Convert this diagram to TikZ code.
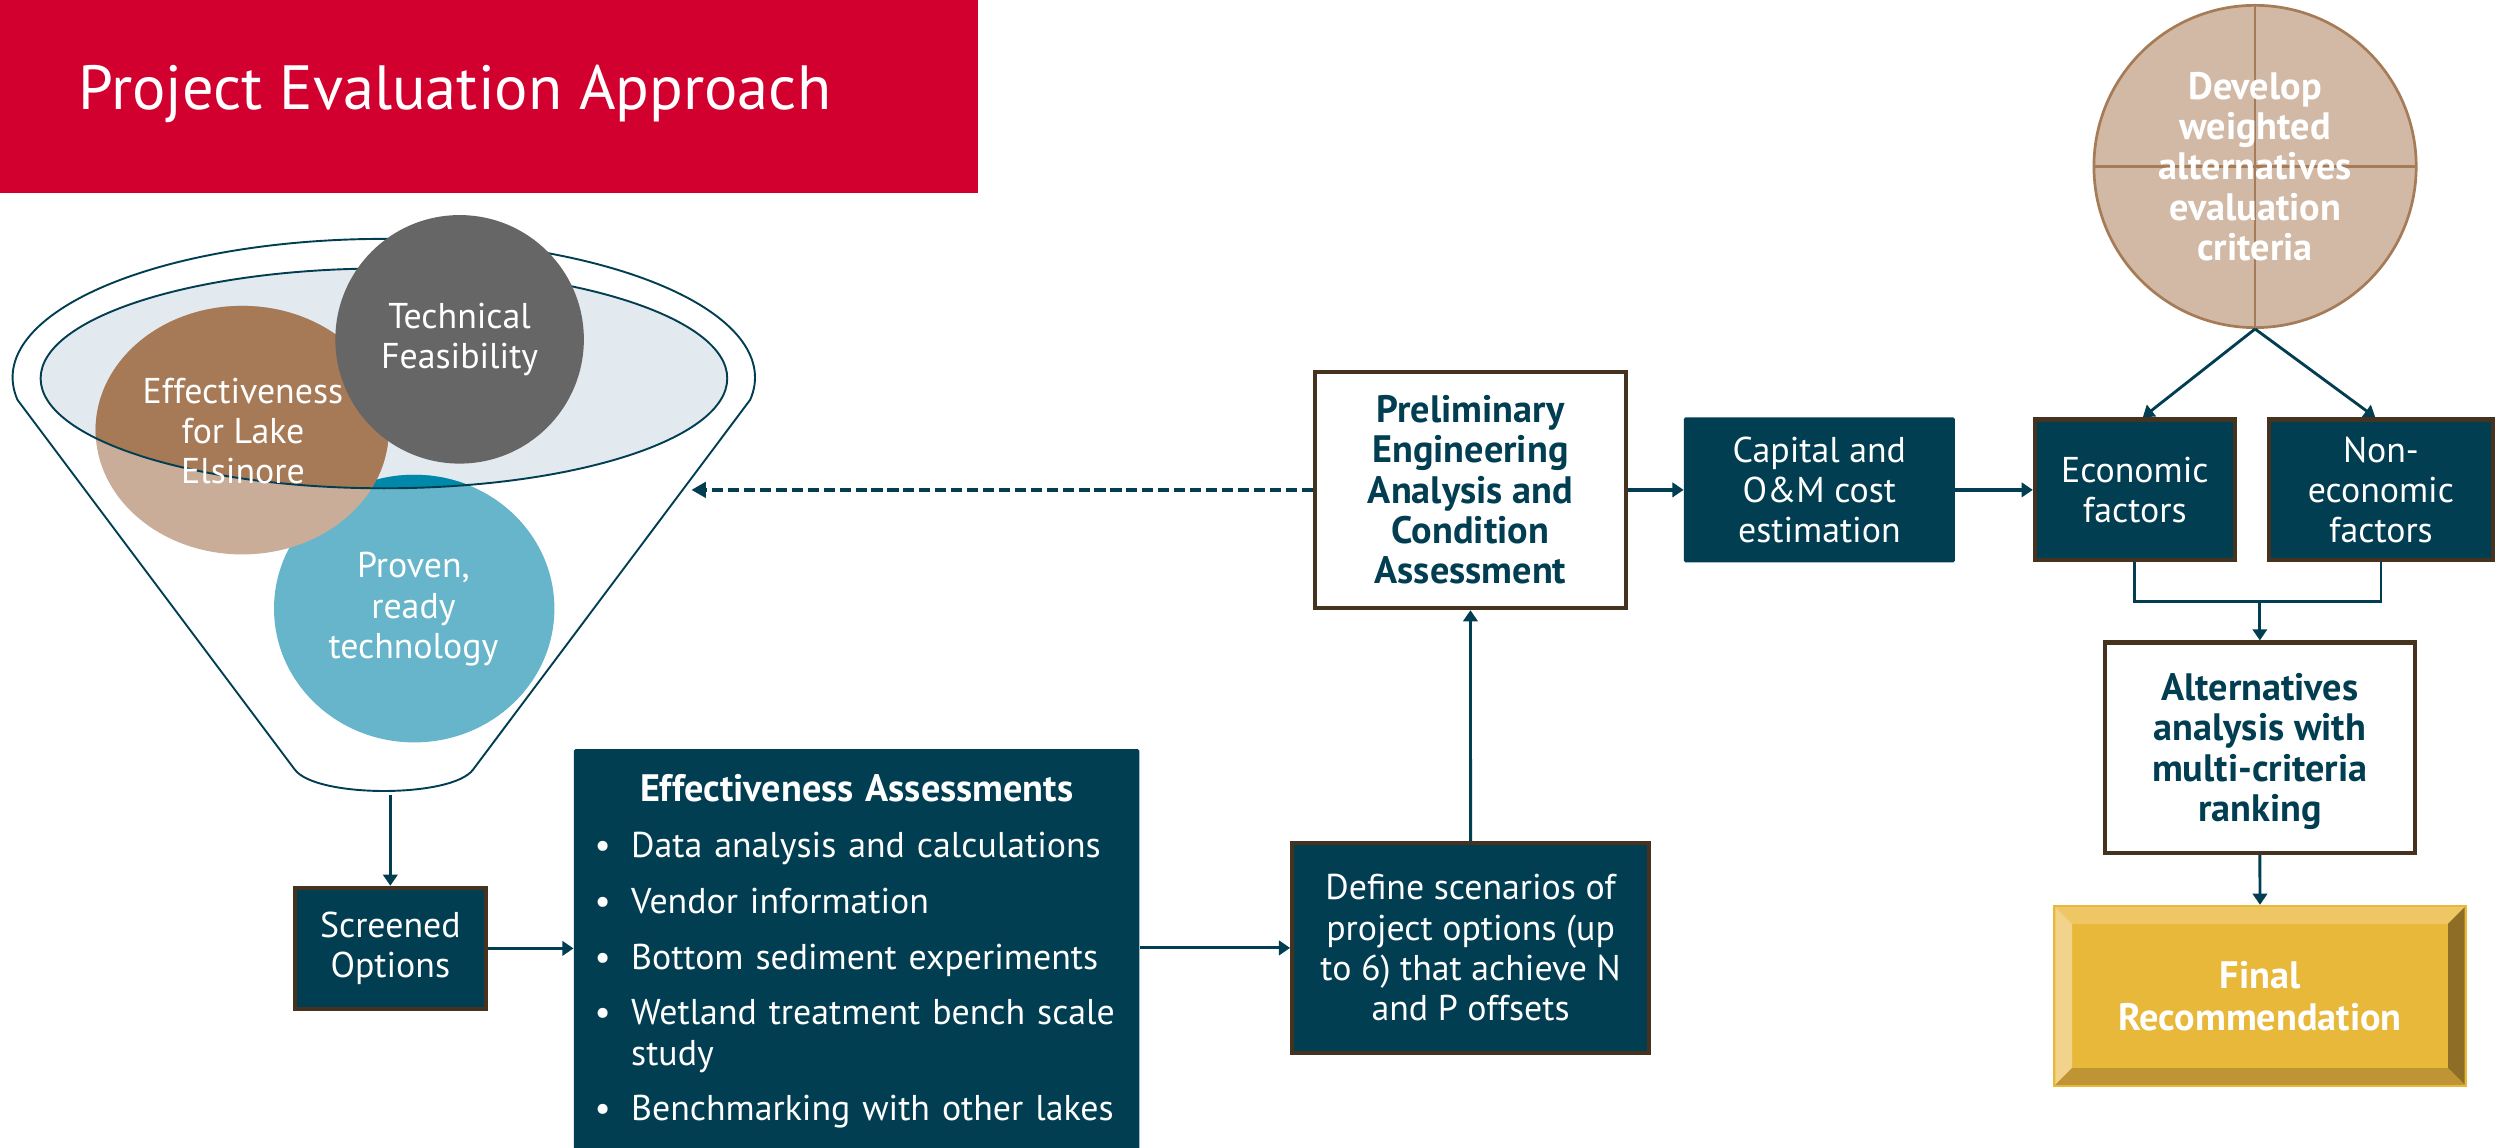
\documentclass[tikz,border=0pt]{standalone}
\usepackage{fontspec}
\setmainfont{PT Sans}
\usetikzlibrary{arrows.meta,calc}

\definecolor{tealdark}{HTML}{023E52}
\definecolor{boxedge}{HTML}{46331F}
\definecolor{titlered}{HTML}{D2002F}
\definecolor{funnelfill}{HTML}{E2E9EF}
\definecolor{graycirc}{HTML}{666666}
\definecolor{brownlight}{HTML}{C9AD98}
\definecolor{browndark}{HTML}{A67A57}
\definecolor{teallight}{HTML}{66B5CB}
\definecolor{tealmid}{HTML}{0088AA}
\definecolor{critfill}{HTML}{D2B9A6}
\definecolor{critedge}{HTML}{A67B57}
\definecolor{gold}{HTML}{E8B83A}
\definecolor{goldtop}{HTML}{EEC764}
\definecolor{goldleft}{HTML}{F2D38B}
\definecolor{goldright}{HTML}{8E6E26}
\definecolor{goldbottom}{HTML}{BF9434}

\newcommand{\bodyfont}{\fontsize{22.5}{25.3}\selectfont}
\newcommand{\boldfont}{\fontsize{24}{25.3}\selectfont\bfseries}
\newcommand{\titlefont}{\fontsize{39.2}{44}\selectfont}

\begin{document}
\begin{tikzpicture}[x=1pt,y=-1pt,
  every node/.style={inner sep=0pt, align=center, font=\bodyfont},
  darkbox/.style={fill=tealdark, draw=boxedge, line width=2.6pt, text=white},
  plainbox/.style={fill=tealdark, text=white, rounded corners=1pt},
  whitebox/.style={fill=white, draw=boxedge, line width=2.6pt, text=tealdark, font=\boldfont},
  link/.style={draw=tealdark, line width=1.8pt, -{Triangle[length=7pt,width=9pt]}},
  backlink/.style={draw=tealdark, line width=2.5pt, dash pattern=on 7pt off 3pt,
    -{Triangle[length=9pt,width=9.5pt]}},
  joint/.style={draw=tealdark, line width=1.8pt},
  outline/.style={draw=tealdark, line width=1.2pt},
  bubbletext/.style={text=white},
]
\useasboundingbox (0,0) rectangle (1568,720);

% ---- title banner
\fill[titlered] (0,0) rectangle (614,121);
\node[anchor=base west, text=white, font=\titlefont] (title) at (49,69) {Project Evaluation Approach};

% ---- screening funnel
\draw[outline, fill=white] (11,251)
  arc[start angle=189.3, end angle=-9.3, x radius=233pt, y radius=87pt]
  -- (297,483) .. controls (284,501) and (198,501) .. (185,483) -- cycle;
\fill[funnelfill] (241,237.5) ellipse[x radius=215.5pt, y radius=69pt];
\fill[teallight] (260,382) ellipse[x radius=88pt, y radius=84pt];
\fill[brownlight] (152,270) ellipse[x radius=92pt, y radius=78pt];
\begin{scope}
  \clip (241,237.5) ellipse[x radius=215.5pt, y radius=69pt];
  \fill[tealmid] (260,382) ellipse[x radius=88pt, y radius=84pt];
  \fill[browndark] (152,270) ellipse[x radius=92pt, y radius=78pt];
\end{scope}
\draw[outline] (241,237.5) ellipse[x radius=215.5pt, y radius=69pt];
\fill[graycirc] (288.5,213) circle[radius=78pt];

\node[bubbletext] (techtxt) at (288.5,213) {Technical\\Feasibility};
\node[bubbletext] (efftxt) at (152.5,270.5) {Effectiveness\\for Lake\\Elsinore};
\node[bubbletext] (proventxt) at (259.5,382.5) {Proven,\\ready\\technology};
\coordinate (fbottom) at (245,499);

% ---- process boxes
\node[darkbox, minimum width=119.7pt, minimum height=76pt] (screen) at (245,595.3) {Screened\\Options};

\node[plainbox, anchor=north west, minimum width=355pt, minimum height=270pt] (eff) at (360,470) {};
\node[text=white, anchor=north west, text width=355pt, align=left] (efflist) at (360,486) {%
  \makebox[355pt][c]{\boldfont Effectiveness Assessments}\\[9.7pt]
  \hspace*{13pt}\makebox[23pt][l]{\textbullet}Data analysis and calculations\\[9.7pt]
  \hspace*{13pt}\makebox[23pt][l]{\textbullet}Vendor information\\[9.7pt]
  \hspace*{13pt}\makebox[23pt][l]{\textbullet}Bottom sediment experiments\\[9.7pt]
  \hspace*{13pt}\makebox[23pt][l]{\textbullet}Wetland treatment bench scale\\
  \hspace*{36pt}study\\[9.7pt]
  \hspace*{13pt}\makebox[23pt][l]{\textbullet}Benchmarking with other lakes};

\node[darkbox, minimum width=224pt, minimum height=131.4pt] (define) at (923.1,595)
  {Define scenarios of\\project options (up\\to 6) that achieve N\\and P offsets};

\node[whitebox, minimum width=195.4pt, minimum height=148.4pt] (prelim) at (923,307.5)
  {Preliminary\\Engineering\\Analysis and\\Condition\\Assessment};

\node[plainbox, minimum width=170pt, minimum height=91pt] (capital) at (1142,307.5)
  {Capital and\\O\&M cost\\estimation};

\node[darkbox, minimum width=125.4pt, minimum height=88.4pt] (econ) at (1340,307.5)
  {Economic\\factors};
\node[darkbox, minimum width=140.4pt, minimum height=88.4pt] (noneco) at (1494.5,307.5)
  {Non-\\economic\\factors};

\node[circle, minimum size=202.3pt, fill=critfill, draw=critedge, line width=1.7pt,
  text=white, font=\boldfont,
  path picture={\draw[critedge, line width=1.7pt]
    (path picture bounding box.north) -- (path picture bounding box.south)
    (path picture bounding box.west) -- (path picture bounding box.east);}]
  (crit) at (1415.5,104.5) {Develop\\weighted\\alternatives\\evaluation\\criteria};

\node[whitebox, minimum width=194.4pt, minimum height=132pt] (alt) at (1418.5,469.3)
  {\rule{0pt}{22pt}Alternatives\\analysis with\\multi-criteria\\ranking};

% bevelled recommendation plate
\node[fill=gold, draw=gold, line width=3pt, minimum width=257pt, minimum height=111.5pt,
  text=white, font=\boldfont] (final) at (1418.6,625.2) {Final\\[1.5pt]Recommendation};
\coordinate (onw) at ($(final.north west)+(1.5pt,-1.5pt)$);
\coordinate (one) at ($(final.north east)+(-1.5pt,-1.5pt)$);
\coordinate (osw) at ($(final.south west)+(1.5pt,1.5pt)$);
\coordinate (ose) at ($(final.south east)+(-1.5pt,1.5pt)$);
\coordinate (inw) at ($(final.north west)+(12pt,-12pt)$);
\coordinate (ine) at ($(final.north east)+(-12pt,-12pt)$);
\coordinate (isw) at ($(final.south west)+(12pt,12pt)$);
\coordinate (ise) at ($(final.south east)+(-12pt,12pt)$);
\fill[goldtop] (onw) -- (one) -- (ine) -- (inw) -- cycle;
\fill[goldleft] (onw) -- (inw) -- (isw) -- (osw) -- cycle;
\fill[goldright] (one) -- (ose) -- (ise) -- (ine) -- cycle;
\fill[goldbottom] (osw) -- (isw) -- (ise) -- (ose) -- cycle;

% ---- connectors
\coordinate (funneltip) at (434,307.5);
\coordinate (merge) at (1418.5,377.5);
\draw[link] (fbottom) -- (fbottom |- screen.north);
\draw[link] (screen.east) -- (screen.east -| eff.west);
\draw[link] (define.west -| eff.east) -- (define.west);
\draw[link] (define.north) -- (prelim.south);
\draw[backlink] (prelim.west) -- (funneltip);
\draw[link, line width=2.2pt] (prelim.east) -- (capital.west);
\draw[link, line width=2.2pt] (capital.east) -- (econ.west);
\draw[link] (crit.south) -- ($(econ.north)+(5pt,0)$);
\draw[link] (crit.south) -- ($(noneco.north)+(-3.5pt,0)$);
\draw[joint] (econ.south) |- (merge) -| (noneco.south);
\draw[link] (merge) -- (alt.north);
\draw[link] (alt.south) -- (final.north);
\end{tikzpicture}
\end{document}
